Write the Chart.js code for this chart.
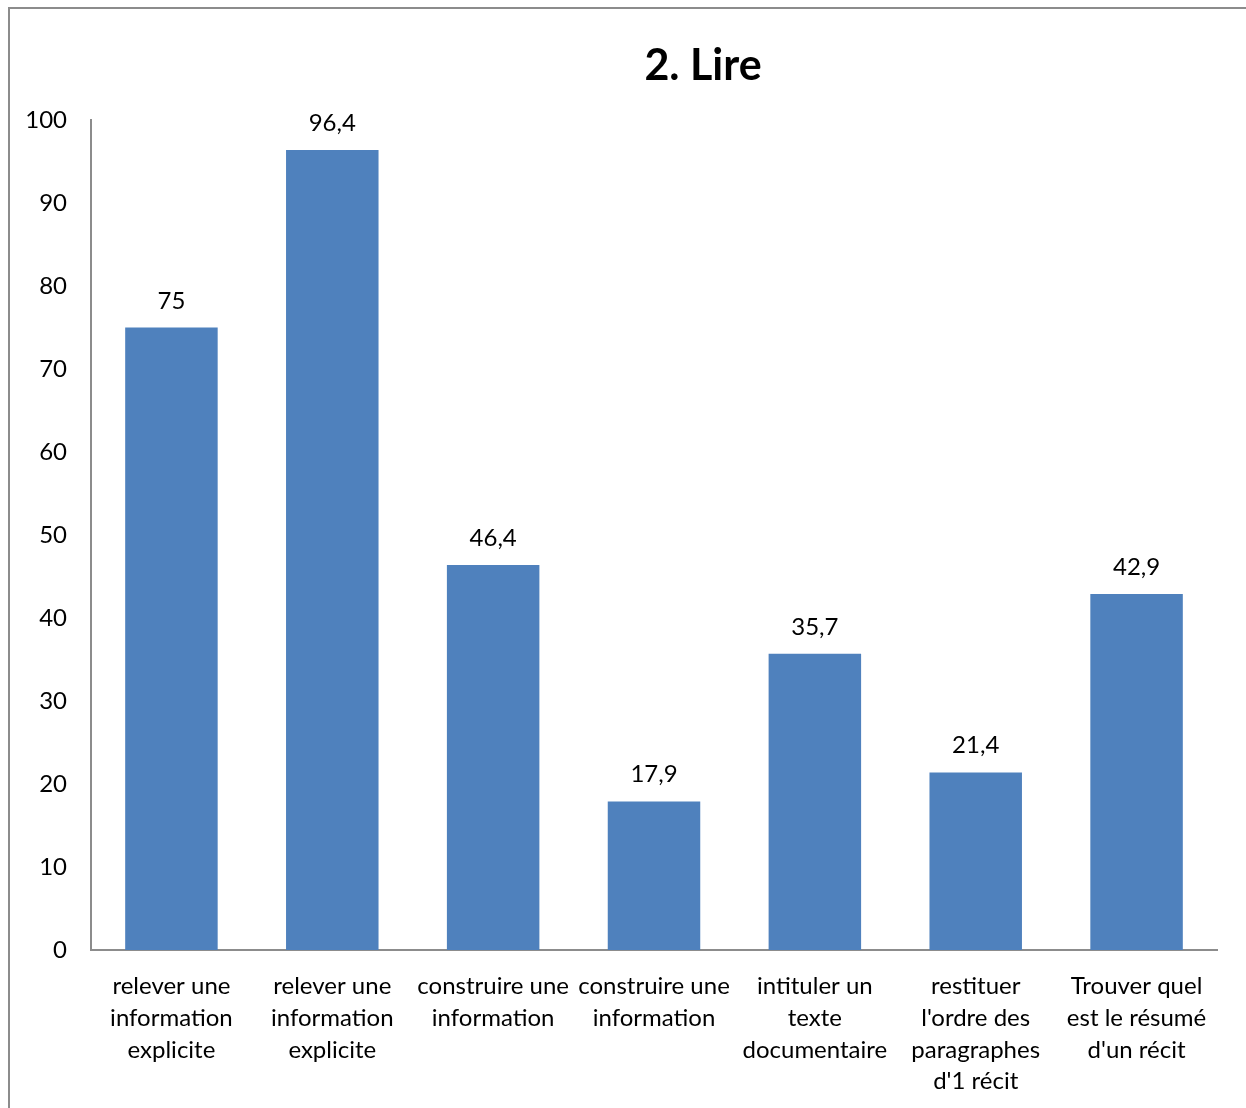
<!DOCTYPE html>
<html>
<head>
<meta charset="utf-8">
<script src="https://cdn.jsdelivr.net/npm/chart.js@4/dist/chart.umd.min.js"></script>
<style>
  html, body { margin: 0; padding: 0; background: #fff; }
  #wrap { position: relative; width: 1246px; height: 1108px; overflow: hidden; }
</style>
</head>
<body>
<div id="wrap"><canvas id="chart" width="1246" height="1108"></canvas></div>
<script>
// data
const chartTitle = "2. Lire";
const categories = [
  ["relever une", "information", "explicite"],
  ["relever une", "information", "explicite"],
  ["construire une", "information"],
  ["construire une", "information"],
  ["intituler un", "texte", "documentaire"],
  ["restituer", "l'ordre des", "paragraphes", "d'1 récit"],
  ["Trouver quel", "est le résumé", "d'un récit"]
];
const scores = [75, 96.4, 46.4, 17.9, 35.7, 21.4, 42.9];
const yTicks = [0, 10, 20, 30, 40, 50, 60, 70, 80, 90, 100];

const fontFamily = "Lato, 'Open Sans', sans-serif";

// frame + title + value labels
const extras = {
  id: "extras",
  beforeDraw(chart) {
    const ctx = chart.ctx;
    ctx.save();
    ctx.strokeStyle = "#8c8c8c";
    ctx.lineWidth = 2;
    ctx.strokeRect(9, 8, 1250, 1120);
    ctx.restore();
  },
  afterDatasetsDraw(chart) {
    const ctx = chart.ctx;
    ctx.save();
    ctx.fillStyle = "#000";
    ctx.textAlign = "center";
    ctx.textBaseline = "middle";
    ctx.font = "bold 43px " + fontFamily;
    ctx.fillText(chartTitle, 703, 66);

    ctx.font = "24px " + fontFamily;
    ctx.textBaseline = "alphabetic";
    const meta = chart.getDatasetMeta(0);
    meta.data.forEach((bar, i) => {
      const txt = String(scores[i]).replace(".", ",");
      ctx.fillText(txt, bar.x, bar.y - 19);
    });
    ctx.restore();
  }
};

new Chart(document.getElementById("chart"), {
  type: "bar",
  data: {
    labels: categories,
    datasets: [{
      data: scores,
      backgroundColor: "#4F81BD",
      borderWidth: 0,
      categoryPercentage: 1,
      barPercentage: 0.575
    }]
  },
  options: {
    responsive: false,
    animation: false,
    layout: { padding: { top: 120, right: 29, left: 0, bottom: 0 } },
    plugins: {
      legend: { display: false },
      tooltip: { enabled: false }
    },
    scales: {
      x: {
        grid: { display: false, drawTicks: false },
        border: { display: true, color: "#8c8c8c", width: 2 },
        ticks: {
          color: "#000",
          font: { family: fontFamily, size: 24, lineHeight: 1.33 },
          padding: 20,
          maxRotation: 0,
          minRotation: 0,
          autoSkip: false
        },
        afterFit(scale) { scale.height = 158; }
      },
      y: {
        min: 0,
        max: 100,
        afterBuildTicks(scale) { scale.ticks = yTicks.map(v => ({ value: v })); },
        grid: { display: false, drawTicks: false },
        border: { display: true, color: "#8c8c8c", width: 2 },
        ticks: {
          color: "#000",
          font: { family: fontFamily, size: 24 },
          padding: 24
        },
        afterFit(scale) { scale.width = 91; }
      }
    }
  },
  plugins: [extras]
});
</script>
</body>
</html>
